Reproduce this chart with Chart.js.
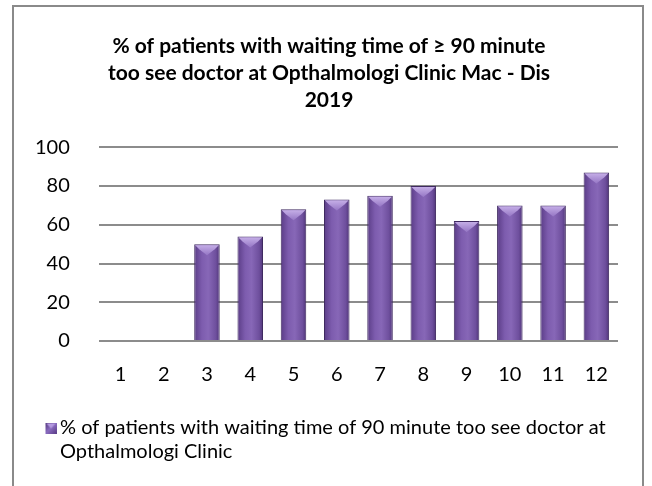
<!DOCTYPE html>
<html>
<head>
<meta charset="utf-8">
<script src="https://cdn.jsdelivr.net/npm/chart.js@4/dist/chart.umd.min.js"></script>
<style>
  html, body { margin: 0; padding: 0; background: #fff; }
  #wrap { position: relative; width: 652px; height: 486px; overflow: hidden; }
  #frame { position: absolute; left: 12px; top: 5px; width: 632px; height: 500px;
           border: 2px solid #8a8a8a; border-bottom: none; box-sizing: border-box; }
  canvas#c { position: absolute; left: 0; top: 0; }
</style>
</head>
<body>
<div id="wrap">
  <div id="frame"></div>
  <canvas id="c" width="652" height="486"></canvas>
</div>
<script>
const categories = ['1','2','3','4','5','6','7','8','9','10','11','12'];
const values = [0, 0, 50, 54, 68, 73, 75, 80, 62, 70, 70, 87];
const yTicks = [0, 20, 40, 60, 80, 100];
const titleLines = ['% of patients with waiting time of \u2265 90 minute', 'too see doctor at Opthalmologi Clinic Mac - Dis', '2019'];
const seriesLabelLines = ['% of patients with waiting time of 90 minute too see doctor at', 'Opthalmologi Clinic'];

const FONT = 'Lato, "Open Sans", sans-serif';
const BAR_PCT = 0.59;

function barFill(ctx) {
  const chart = ctx.chart;
  const xs = chart.scales && chart.scales.x;
  if (!xs || !chart.chartArea || ctx.dataIndex === undefined) return '#7a5aa8';
  const cx = xs.getPixelForValue(ctx.dataIndex);
  const w = (xs.width / categories.length) * BAR_PCT;
  const g = chart.ctx.createLinearGradient(cx - w / 2, 0, cx + w / 2, 0);
  g.addColorStop(0, '#5a3c86');
  g.addColorStop(0.3, '#7d5cae');
  g.addColorStop(0.55, '#8767b7');
  g.addColorStop(0.85, '#6e4f9d');
  g.addColorStop(1, '#4f3478');
  return g;
}

// legend swatch image: square placed at the right part of a wider transparent image
const swatch = document.createElement('canvas');
swatch.width = 48; swatch.height = 11;
(function () {
  const s = swatch.getContext('2d');
  const g = s.createLinearGradient(37, 0, 48, 11);
  g.addColorStop(0, '#4f3478');
  g.addColorStop(0.5, '#8a6cc0');
  g.addColorStop(1, '#5a3c86');
  s.fillStyle = g;
  s.fillRect(37, 0, 11, 11);
  s.fillStyle = '#b49ae0';
  s.beginPath(); s.moveTo(38, 1); s.lineTo(47, 1); s.lineTo(42.5, 6); s.closePath(); s.fill();
})();

const bevelPlugin = {
  id: 'bevel',
  afterDatasetsDraw(chart) {
    const meta = chart.getDatasetMeta(0);
    const c = chart.ctx;
    c.save();
    meta.data.forEach((el, i) => {
      if (!values[i]) return;
      const w = el.width, x0 = el.x - w / 2, x1 = el.x + w / 2, y = el.y;
      const g = c.createLinearGradient(0, y, 0, y + 10);
      g.addColorStop(0, '#c9b3ea');
      g.addColorStop(1, '#9a7cc8');
      c.fillStyle = g;
      c.beginPath();
      c.moveTo(x0 + 1, y + 1);
      c.lineTo(x1 - 1, y + 1);
      c.lineTo(x1 - 5, y + 5);
      c.lineTo(el.x, y + 11);
      c.lineTo(x0 + 5, y + 5);
      c.closePath();
      c.fill();
    });
    c.restore();
  }
};

// make the legend box tall enough for its second text line; center title on the frame
const layoutPlugin = {
  id: 'layoutTweaks',
  afterInit(chart) {
    const lg = chart.legend;
    if (lg && !lg._patched) {
      const orig = lg.fit.bind(lg);
      lg.fit = function () {
        orig();
        this.height += 24 * (seriesLabelLines.length - 1);
      };
      lg._patched = true;
    }
  },
  afterLayout(chart) {
    const t = chart.titleBlock;
    if (t) {
      t.left = 12;
      t.right = 646;
      t.width = t.right - t.left;
    }
  }
};

new Chart(document.getElementById('c'), {
  type: 'bar',
  data: {
    labels: categories,
    datasets: [{
      label: seriesLabelLines.join(' '),
      data: values,
      backgroundColor: barFill,
      borderColor: '#3f2a60',
      borderWidth: 1,
      categoryPercentage: 1,
      barPercentage: BAR_PCT
    }]
  },
  options: {
    responsive: false,
    animation: false,
    devicePixelRatio: 1,
    layout: { padding: { left: 6, right: 34, top: 33, bottom: 14 } },
    plugins: {
      tooltip: { enabled: false },
      title: {
        display: true,
        text: titleLines,
        color: '#000',
        font: { family: FONT, size: 21, weight: 'bold', lineHeight: 1.29 },
        padding: { top: 0, bottom: 33 }
      },
      legend: {
        display: true,
        position: 'bottom',
        align: 'start',
        labels: {
          color: '#000',
          font: { family: FONT, size: 20, lineHeight: 1.2 },
          usePointStyle: true,
          pointStyleWidth: 35,
          boxHeight: 11,
          padding: 9,
          generateLabels(chart) {
            return [{
              text: seriesLabelLines,
              pointStyle: swatch,
              fillStyle: '#7655a8',
              strokeStyle: '#4a3270',
              lineWidth: 0,
              datasetIndex: 0
            }];
          }
        }
      }
    },
    scales: {
      x: {
        grid: { display: false, drawTicks: false },
        border: { display: false },
        ticks: { color: '#000', font: { family: FONT, size: 20 }, padding: 22, maxRotation: 0 }
      },
      y: {
        min: 0,
        max: 100,
        afterBuildTicks(scale) { scale.ticks = yTicks.map(v => ({ value: v })); },
        grid: { color: '#8c8c8c', lineWidth: 2, drawTicks: false },
        border: { display: false },
        ticks: { color: '#000', font: { family: FONT, size: 20 }, padding: 29 }
      }
    }
  },
  plugins: [bevelPlugin, layoutPlugin]
});
</script>
</body>
</html>
